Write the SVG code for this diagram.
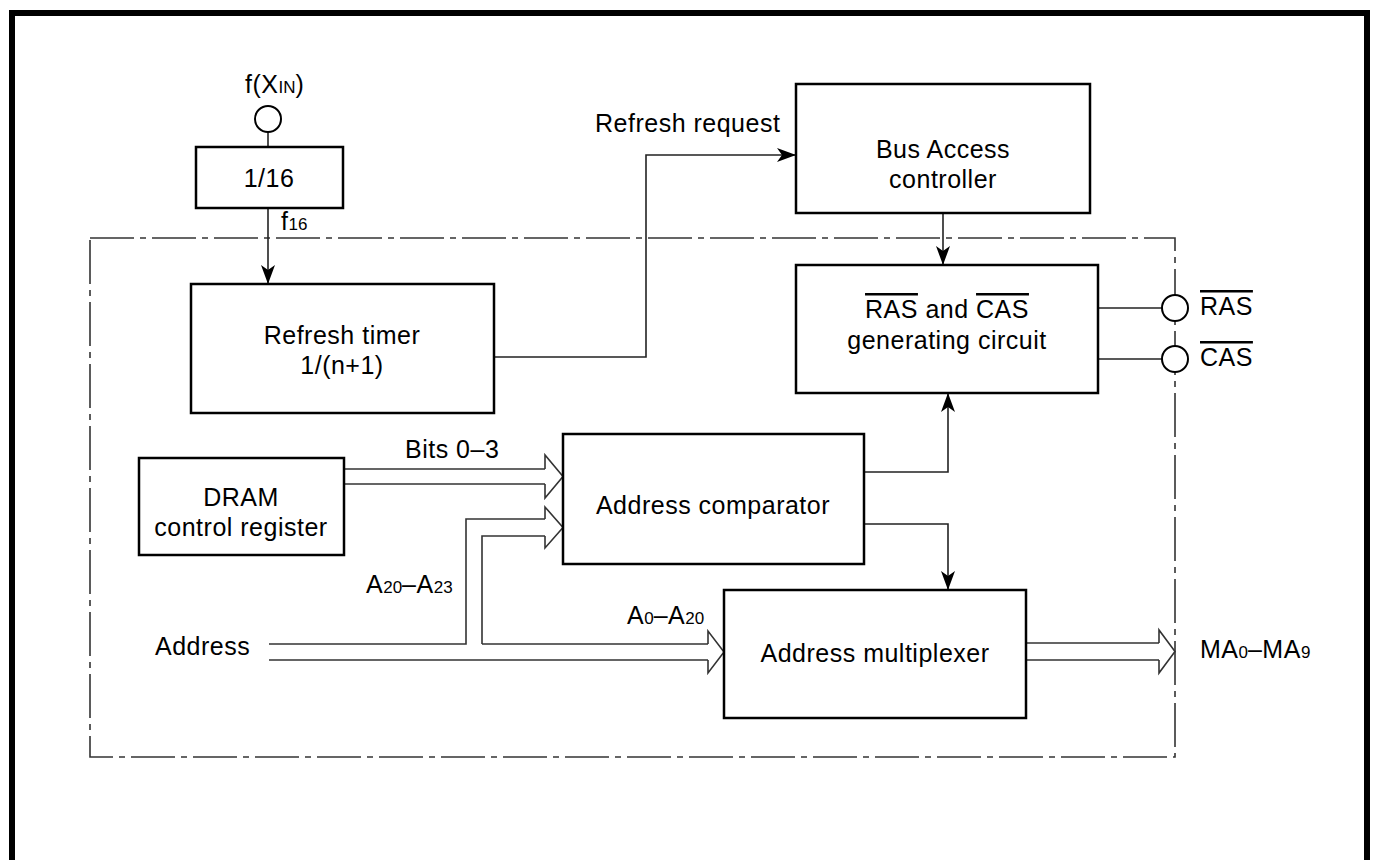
<svg xmlns="http://www.w3.org/2000/svg" width="1375" height="860" viewBox="0 0 1375 860">
<style>
  text { font-family: "Liberation Sans", Arial, sans-serif; font-size: 25px; letter-spacing: 0.5px; fill: #000; }
  .box { fill: #fff; stroke: #000; stroke-width: 2.5; }
  .wire { fill: none; stroke: #222; stroke-width: 1.6; }
  .bus { fill: none; stroke: #333; stroke-width: 1.6; }
  .sub { font-size: 17px; letter-spacing: 0px; }
  .ol { text-decoration: overline; }
  .pin { fill: #fff; stroke: #000; stroke-width: 2; }
</style>
<defs>
  <marker id="arr" markerUnits="userSpaceOnUse" markerWidth="20" markerHeight="16" viewBox="0 0 20 16" refX="19" refY="8" orient="auto">
    <path d="M0,1 L19,8 L0,15 L5,8 z" fill="#000"/>
  </marker>
</defs>
<rect x="0" y="0" width="1375" height="860" fill="#fff"/>
<path d="M12,870 V13 H1367 V870" fill="none" stroke="#000" stroke-width="6"/>
<rect id="boundary" x="90" y="238" width="1085" height="519" fill="none" stroke="#333" stroke-width="1.6" stroke-dasharray="44 6 6 6"/>

<g id="connectors">
  <line class="wire" x1="268" y1="132" x2="268" y2="147"/>
  <line class="wire" x1="268" y1="208" x2="268" y2="284" marker-end="url(#arr)"/>
  <path class="wire" d="M494,357 H646 V155 H796" marker-end="url(#arr)"/>
  <line class="wire" x1="943" y1="213" x2="943" y2="265" marker-end="url(#arr)"/>
  <line class="wire" x1="1098" y1="308" x2="1162" y2="308"/>
  <line class="wire" x1="1098" y1="359" x2="1162" y2="359"/>
  <path class="wire" d="M864,472 H948 V393" marker-end="url(#arr)"/>
  <path class="wire" d="M864,524 H948 V590" marker-end="url(#arr)"/>
  <path class="bus" d="M344,469 H545 M344,484 H545 M545,469 V455 L563,476.5 L545,498 V484"/>
  <path class="bus" d="M269,644 H466 V519 H545 M482,644 V536 H545 M545,519 V507 L563,527.5 L545,548 V536"/>
  <path class="bus" d="M482,644 H708 M269,660 H708 M708,644 V631 L724,652 L708,673 V660"/>
  <path class="bus" d="M1026,643 H1159 M1026,660 H1159 M1159,643 V630 L1175,651.5 L1159,673 V660"/>
</g>

<g id="fxin">
  <circle class="pin" cx="268" cy="119" r="13"/>
  <text x="245" y="93">f(X<tspan class="sub">IN</tspan>)</text>
</g>
<g id="div16">
  <rect class="box" x="196" y="147" width="147" height="61"/>
  <text x="269" y="187" text-anchor="middle">1/16</text>
  <text x="281" y="230">f<tspan class="sub">16</tspan></text>
</g>
<g id="refresh-timer">
  <rect class="box" x="191" y="284" width="303" height="129"/>
  <text x="342" y="344" text-anchor="middle">Refresh timer</text>
  <text x="342" y="374" text-anchor="middle">1/(n+1)</text>
</g>
<g id="refresh-request-label">
  <text x="595" y="132">Refresh request</text>
</g>
<g id="bus-access">
  <rect class="box" x="796" y="84" width="294" height="129"/>
  <text x="943" y="158" text-anchor="middle">Bus Access</text>
  <text x="943" y="188" text-anchor="middle">controller</text>
</g>
<g id="ras-cas-gen">
  <rect class="box" x="796" y="265" width="302" height="128"/>
  <text x="947" y="318" text-anchor="middle"><tspan class="ol">RAS</tspan> and <tspan class="ol">CAS</tspan></text>
  <text x="947" y="349" text-anchor="middle">generating circuit</text>
</g>
<g id="ras-pin">
  <circle class="pin" cx="1175" cy="308" r="13"/>
  <text x="1200" y="315" class="ol">RAS</text>
</g>
<g id="cas-pin">
  <circle class="pin" cx="1175" cy="359" r="13"/>
  <text x="1200" y="366" class="ol">CAS</text>
</g>
<g id="dram-reg">
  <rect class="box" x="139" y="458" width="205" height="97"/>
  <text x="241" y="506" text-anchor="middle">DRAM</text>
  <text x="241" y="536" text-anchor="middle">control register</text>
</g>
<g id="addr-comp">
  <rect class="box" x="563" y="434" width="301" height="130"/>
  <text x="713" y="514" text-anchor="middle">Address comparator</text>
</g>
<g id="addr-mux">
  <rect class="box" x="724" y="590" width="302" height="128"/>
  <text x="875" y="662" text-anchor="middle">Address multiplexer</text>
</g>
<g id="labels">
  <text x="405" y="458">Bits 0–3</text>
  <text x="366" y="593">A<tspan class="sub">20</tspan>–A<tspan class="sub">23</tspan></text>
  <text x="627" y="624">A<tspan class="sub">0</tspan>–A<tspan class="sub">20</tspan></text>
  <text x="155" y="655">Address</text>
  <text x="1200" y="658">MA<tspan class="sub">0</tspan>–MA<tspan class="sub">9</tspan></text>
</g>
</svg>
